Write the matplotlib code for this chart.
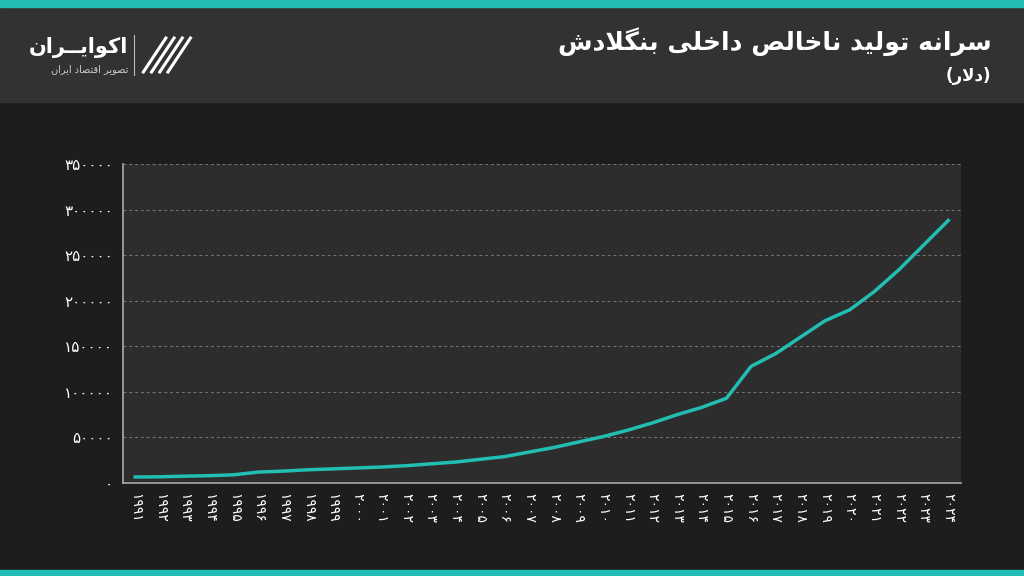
import matplotlib
matplotlib.use("Agg")
import matplotlib.pyplot as plt
from matplotlib.patches import Rectangle

# ── Data ──────────────────────────────────────────────────────────────────────
years = list(range(1991, 2025))
gdp_per_capita = [6600, 6800, 7500, 8000, 9000, 12000, 13000, 14500, 15500, 16500,
                  17500, 19000, 21000, 23000, 26000, 29000, 34000, 39000, 45000, 51000,
                  58000, 66000, 75000, 83000, 93000, 128000, 142000, 160000, 178000, 190000,
                  210000, 234000, 261000, 288000]
y_ticks = [0, 50000, 100000, 150000, 200000, 250000, 300000, 350000]

TITLE = "سرانه تولید ناخالص داخلی بنگلادش"
UNIT = "(دلار)"
LOGO = "اکوایــران"
LOGO_SUB = "تصویر اقتصاد ایران"

TEAL = "#22bdb3"

# ── Minimal Persian shaping (matplotlib has no RTL/joining support) ──────────
FORMS = {  # isolated, final, initial, medial
    "ا": (0xFE8D, 0xFE8E, None, None), "ب": (0xFE8F, 0xFE90, 0xFE91, 0xFE92),
    "ت": (0xFE95, 0xFE96, 0xFE97, 0xFE98), "خ": (0xFEA5, 0xFEA6, 0xFEA7, 0xFEA8),
    "د": (0xFEA9, 0xFEAA, None, None), "ر": (0xFEAD, 0xFEAE, None, None),
    "س": (0xFEB1, 0xFEB2, 0xFEB3, 0xFEB4), "ش": (0xFEB5, 0xFEB6, 0xFEB7, 0xFEB8),
    "ص": (0xFEB9, 0xFEBA, 0xFEBB, 0xFEBC), "ف": (0xFED1, 0xFED2, 0xFED3, 0xFED4),
    "ق": (0xFED5, 0xFED6, 0xFED7, 0xFED8), "ل": (0xFEDD, 0xFEDE, 0xFEDF, 0xFEE0),
    "ن": (0xFEE5, 0xFEE6, 0xFEE7, 0xFEE8), "ه": (0xFEE9, 0xFEEA, 0xFEEB, 0xFEEC),
    "و": (0xFEED, 0xFEEE, None, None), "ی": (0xFBFC, 0xFBFD, 0xFBFE, 0xFBFF),
    "گ": (0xFB92, 0xFB93, 0xFB94, 0xFB95), "ک": (0xFB8E, 0xFB8F, 0xFB90, 0xFB91),
    "ـ": (0x0640, 0x0640, 0x0640, 0x0640),
}


def joins_next(c):
    return c in FORMS and FORMS[c][2] is not None


def shape(text):
    # lam-alef ligature
    text = text.replace("لا", "\uE000")
    chars = list(text)
    out = []
    for i, c in enumerate(chars):
        prev = chars[i - 1] if i > 0 else " "
        nxt = chars[i + 1] if i + 1 < len(chars) else " "
        linked_prev = joins_next(prev)
        if c == "\uE000":
            out.append(chr(0xFEFC if linked_prev else 0xFEFB))
            continue
        if c not in FORMS:
            out.append({"(": ")", ")": "("}.get(c, c))
            continue
        iso, fin, ini, med = FORMS[c]
        linked_next = (nxt in FORMS or nxt == "\uE000") and ini is not None
        if linked_prev and linked_next:
            out.append(chr(med))
        elif linked_prev:
            out.append(chr(fin))
        elif linked_next:
            out.append(chr(ini))
        else:
            out.append(chr(iso))
    return "".join(reversed(out))


def fa_digits(n):
    return str(n).translate(str.maketrans("0123456789", "۰۱۲۳۴۵۶۷۸۹"))


# ── Figure ────────────────────────────────────────────────────────────────────
fig = plt.figure(figsize=(10.24, 5.76), dpi=100)
fig.patch.set_facecolor("#1e1c1d")

# header band + teal strips
fig.add_artist(Rectangle((0, 1 - 102 / 576), 1, 95 / 576, transform=fig.transFigure,
                         color="#333233", zorder=0))
fig.add_artist(Rectangle((0, 1 - 7 / 576), 1, 7 / 576, transform=fig.transFigure,
                         color=TEAL, zorder=1))
fig.add_artist(Rectangle((0, 0), 1, 6 / 576, transform=fig.transFigure,
                         color=TEAL, zorder=1))

fig.text(0.968, 1 - 42 / 576, shape(TITLE), color="white", fontsize=18,
         fontweight="bold", ha="right", va="center", family="DejaVu Sans")
fig.text(0.968, 1 - 76 / 576, shape(UNIT), color="white", fontsize=12,
         fontweight="bold", ha="right", va="center", family="DejaVu Sans")

# logo
fig.text(0.125, 1 - 47 / 576, shape(LOGO), color="white", fontsize=15,
         fontweight="bold", ha="right", va="center", family="DejaVu Sans")
fig.text(0.125, 1 - 69 / 576, shape(LOGO_SUB), color="#cccccc", fontsize=7,
         ha="right", va="center", family="DejaVu Sans")
fig.add_artist(plt.Line2D([0.131, 0.131], [1 - 35 / 576, 1 - 75 / 576],
                          transform=fig.transFigure, color="#bbbbbb", lw=0.8))
for k in range(4):
    x0 = 0.140 + k * 0.008
    fig.add_artist(plt.Line2D([x0, x0 + 0.022], [1 - 72 / 576, 1 - 38 / 576],
                              transform=fig.transFigure, color="white", lw=2.2))

ax = fig.add_axes([0.120, 1 - 483 / 576, 0.818, (483 - 164) / 576])
ax.set_facecolor("#2e2d2e")
ax.plot(years, gdp_per_capita, color=TEAL, lw=2.5, zorder=3)

ax.set_ylim(0, 350000)
ax.set_xlim(years[0] - 0.5, years[-1] + 0.5)
ax.set_yticks(y_ticks)
ax.set_yticklabels([fa_digits(v) for v in y_ticks], color="white", fontsize=11)
ax.set_xticks(years)
ax.set_xticklabels([fa_digits(y) for y in years], rotation=-90, color="white", fontsize=10)
ax.grid(axis="y", color="#777777", ls=(0, (3, 3)), lw=0.7)
ax.tick_params(length=0, pad=7)
for s in ["top", "right"]:
    ax.spines[s].set_visible(False)
for s in ["left", "bottom"]:
    ax.spines[s].set_color("#aaaaaa")
    ax.spines[s].set_linewidth(1.2)

fig.savefig("out.png", dpi=100, facecolor=fig.get_facecolor())
